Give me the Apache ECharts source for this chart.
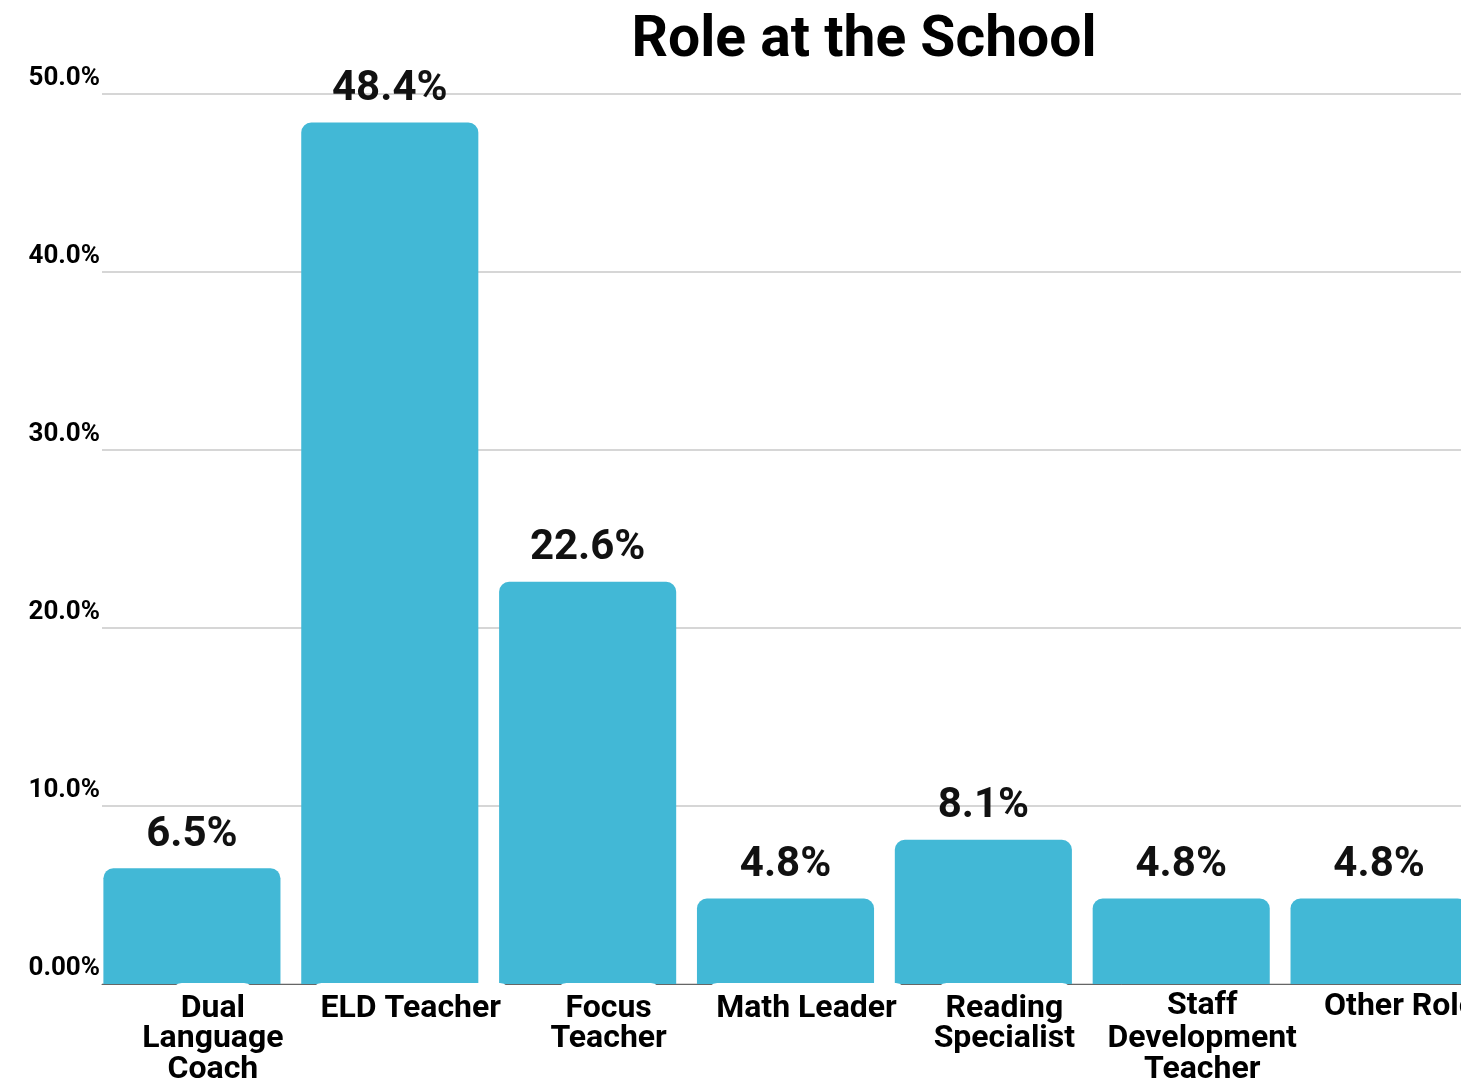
<!DOCTYPE html>
<html>
<head>
<meta charset="utf-8">
<title>Role at the School</title>
<script src="https://cdn.jsdelivr.net/npm/echarts@6/dist/echarts.min.js"></script>
<style>
  html, body { margin: 0; padding: 0; background: #fff; overflow: hidden; }
  #chart { width: 1461px; height: 1081px; }
</style>
</head>
<body>
<div id="chart"></div>
<script>
// Survey responses: share of respondents by role
const categories = [
  'Dual\nLanguage\nCoach',
  'ELD Teacher',
  'Focus\nTeacher',
  'Math Leader',
  'Reading\nSpecialist',
  'Staff\nDevelopment\nTeacher',
  'Other Role'
];
const shares = [6.5, 48.4, 22.6, 4.8, 8.1, 4.8, 4.8];
const yTickLabels = ['0.00%', '10.0%', '20.0%', '30.0%', '40.0%', '50.0%'];

const FONT = 'Roboto';
const BAR_COLOR = '#42b8d6';

// A couple of category names sit slightly higher under their bars
const LABEL_LIFT = { 'Staff\nDevelopment\nTeacher': 'lift7', 'Other Role': 'lift4' };

const labelText = {
  fontFamily: FONT, fontSize: 32, fontWeight: 'bold', color: '#000', lineHeight: 31
};
function tab(topPad) {
  return Object.assign({}, labelText, {
    backgroundColor: '#fff',
    borderRadius: [10, 10, 0, 0],
    padding: [topPad, 9, 7, 9]
  });
}

// First line of each category name sits on a white rounded tab
function categoryLabel(value) {
  const lines = value.split('\n');
  const firstStyle = LABEL_LIFT[value] || 'first';
  return ['{' + firstStyle + '|' + lines[0] + '}']
    .concat(lines.slice(1).map(l => '{rest|' + l + '}'))
    .join('\n');
}

const chart = echarts.init(document.getElementById('chart'));

chart.setOption({
  backgroundColor: '#fff',
  animation: false,
  title: {
    text: 'Role at the School',
    left: 859,
    textAlign: 'center',
    top: 8,
    textStyle: { fontFamily: FONT, fontSize: 57, fontWeight: 'bold', color: '#000' }
  },
  grid: [
    // bars (the last column runs past the right edge of the canvas)
    { left: 93, width: 1385, top: 94, bottom: 97, outerBoundsMode: 'none' },
    // value scale with gridlines
    { left: 102, width: 1376, top: 94, bottom: 97, outerBoundsMode: 'none' }
  ],
  xAxis: [
    {
      type: 'category',
      gridIndex: 0,
      data: categories,
      z: 3,
      axisLine: { show: false },
      axisTick: { show: false },
      axisLabel: {
        interval: 0,
        margin: 8,
        padding: [0, 0, 0, 42],
        hideOverlap: false,
        formatter: categoryLabel,
        rich: {
          first: tab(10),
          lift7: tab(3),
          lift4: tab(6),
          rest: labelText
        }
      }
    },
    {
      type: 'category',
      gridIndex: 1,
      data: categories,
      axisLine: { show: true, lineStyle: { color: '#666', width: 1 } },
      axisTick: { show: false },
      axisLabel: { show: false }
    }
  ],
  yAxis: [
    {
      type: 'value',
      gridIndex: 0,
      min: 0, max: 50, interval: 10,
      show: false
    },
    {
      type: 'value',
      gridIndex: 1,
      min: 0, max: 50, interval: 10,
      axisLine: { show: false },
      axisTick: { show: false },
      splitLine: { lineStyle: { color: '#c8c8c8', width: 1.5 } },
      axisLabel: {
        margin: 2,
        align: 'right',
        verticalAlign: 'bottom',
        padding: [0, 0, 3, 0],
        fontFamily: FONT, fontSize: 26, fontWeight: 'bold', color: '#000',
        formatter: v => yTickLabels[Math.round(v / 10)]
      }
    }
  ],
  series: [
    {
      type: 'bar',
      xAxisIndex: 0,
      yAxisIndex: 0,
      data: shares,
      barCategoryGap: '10.5%',
      itemStyle: { color: BAR_COLOR, borderRadius: [10, 10, 0, 0] },
      label: {
        show: true,
        position: 'top',
        distance: 12,
        formatter: p => p.value.toFixed(1) + '%',
        fontFamily: FONT, fontSize: 42, fontWeight: 'bold', color: '#111'
      }
    }
  ]
});
</script>
</body>
</html>
